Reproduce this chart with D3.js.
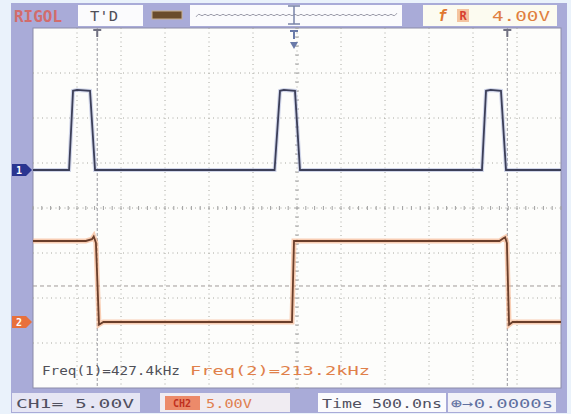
<!DOCTYPE html>
<html>
<head>
<meta charset="utf-8">
<script src="https://d3js.org/d3.v7.min.js"></script>
<style>
  body { margin: 0; background: #eaf2fb; }
  svg text { font-family: "DejaVu Sans Mono", monospace; }
</style>
</head>
<body>
<svg id="scope" width="571" height="414"></svg>
<script>
// time in ns, volts per channel
var ch1Time = [-3000, -2590, -2545, -2500, -2352, -2295, -255, -193, -150, -23, 34, 2102, 2148, 2200, 2318, 2375, 3000];
var ch1Volt = [0, 0, 8.8, 8.9, 8.8, 0, 0, 8.8, 8.9, 8.8, 0, 0, 8.8, 8.9, 8.8, 0, 0];

var ch2Time = [-3000, -2400, -2330, -2310, -2285, -2250, -2200, -57, -34, 2300, 2345, 2365, 2385, 2410, 2450, 3000];
var ch2Volt = [9.0, 9.0, 9.2, 9.5, 8.8, -0.3, 0, 0, 9.0, 9.0, 9.3, 9.4, 8.8, -0.3, 0, 0];

var cursorTimes = [-2270, 2390];
var trigLevel = 4.0;       // volts on CH2
var voltsPerDiv = 5;
var nsPerDiv = 500;

var freqLabels = ["Freq(1)=427.4kHz", "Freq(2)=213.2kHz"];

var svg = d3.select("#scope");

// screen area
var scrL = 33, scrR = 561, scrT = 28, scrB = 388;
var x = d3.scaleLinear().domain([-6 * nsPerDiv, 6 * nsPerDiv]).range([scrL, scrR]);
var yDiv = d3.scaleLinear().domain([-4, 4]).range([scrB, scrT]);
var y1 = function (v) { return yDiv(v / voltsPerDiv + 0.844); };
var y2 = function (v) { return yDiv(v / voltsPerDiv - 2.533); };

function label(px, py, size, fill, len, str) {
  return svg.append("text").attr("x", px).attr("y", py).attr("font-size", size).attr("fill", fill)
    .attr("textLength", len).attr("lengthAdjust", "spacingAndGlyphs").text(str);
}

// frame
svg.append("rect").attr("x", 11).attr("y", 3).attr("width", 556).attr("height", 410).attr("fill", "#a9abd8");
svg.append("rect").attr("x", scrL).attr("y", scrT).attr("width", scrR - scrL).attr("height", scrB - scrT)
  .attr("fill", "#fdfdfb").attr("stroke", "#8c8ca8").attr("stroke-width", 1);

// grid
var grid = svg.append("g");
d3.range(1, 12).forEach(function (i) {
  var gx = x(-3000 + i * nsPerDiv);
  grid.append("line").attr("x1", gx).attr("x2", gx).attr("y1", scrT).attr("y2", scrB)
    .attr("stroke", "#a8a8a0").attr("stroke-dasharray", "1,3.5");
});
d3.range(1, 8).forEach(function (i) {
  var gy = yDiv(-4 + i);
  grid.append("line").attr("x1", scrL).attr("x2", scrR).attr("y1", gy).attr("y2", gy)
    .attr("stroke", "#a8a8a0").attr("stroke-dasharray", "1,3.5");
});
// minor ticks on centre axes
d3.range(-30, 31).forEach(function (k) {
  var gx = x(k * nsPerDiv / 5);
  grid.append("line").attr("x1", gx).attr("x2", gx).attr("y1", yDiv(0) - 2).attr("y2", yDiv(0) + 2).attr("stroke", "#a0a0a0");
});
d3.range(-20, 21).forEach(function (k) {
  var gy = yDiv(k / 5);
  grid.append("line").attr("x1", x(0) - 2).attr("x2", x(0) + 2).attr("y1", gy).attr("y2", gy).attr("stroke", "#a0a0a0");
});

// cursors and trigger level
cursorTimes.forEach(function (t) {
  svg.append("line").attr("x1", x(t)).attr("x2", x(t)).attr("y1", scrT).attr("y2", scrB)
    .attr("stroke", "#9a9aa0").attr("stroke-dasharray", "3,2");
  svg.append("path").attr("d", "M" + (x(t) - 4) + "," + (scrT + 2) + "h8M" + x(t) + "," + (scrT + 2) + "v7")
    .attr("stroke", "#707080").attr("stroke-width", 2);
});
svg.append("line").attr("x1", scrL).attr("x2", scrR).attr("y1", y2(trigLevel)).attr("y2", y2(trigLevel))
  .attr("stroke", "#a09a98").attr("stroke-dasharray", "4,3");

// trigger position marker
var tx = x(0) - 3;
svg.append("path").attr("d", "M" + (tx - 4) + "," + (scrT + 3) + "h8M" + tx + "," + (scrT + 3) + "v8")
  .attr("stroke", "#6a7aa8").attr("stroke-width", 2);
svg.append("path").attr("d", "M" + (tx - 4) + "," + (scrT + 14) + "h8l-4,7z").attr("fill", "#6a7aa8");

// traces
var line1 = d3.line().x(function (d, i) { return x(ch1Time[i]); }).y(function (d) { return y1(d); });
var line2 = d3.line().x(function (d, i) { return x(ch2Time[i]); }).y(function (d) { return y2(d); });

svg.append("path").attr("d", line2(ch2Volt)).attr("fill", "none").attr("stroke", "#f5a77a").attr("stroke-width", 5).attr("opacity", 0.55);
svg.append("path").attr("d", line2(ch2Volt)).attr("fill", "none").attr("stroke", "#6a3e2a").attr("stroke-width", 1.8);
svg.append("path").attr("d", line1(ch1Volt)).attr("fill", "none").attr("stroke", "#b4bce0").attr("stroke-width", 4).attr("opacity", 0.6);
svg.append("path").attr("d", line1(ch1Volt)).attr("fill", "none").attr("stroke", "#3c3f58").attr("stroke-width", 1.8);

// channel markers
function marker(yy, fill, txt) {
  svg.append("path").attr("d", "M12," + (yy - 6) + "h14l6,6l-6,6h-14z").attr("fill", fill);
  svg.append("text").attr("x", 19).attr("y", yy + 4).attr("font-size", 10).attr("font-weight", "bold")
    .attr("fill", "#ffffff").attr("text-anchor", "middle").text(txt);
}
marker(y1(0), "#2a3590", "1");
marker(y2(0), "#e8703c", "2");

// frequency readouts
label(42, 375, 13, "#505058", 138, freqLabels[0]);
label(190, 375, 13, "#e0804a", 180, freqLabels[1]);

// top bar
label(14, 22, 15, "#d26c6c", 48, "RIGOL").attr("font-weight", "bold");
svg.append("rect").attr("x", 78).attr("y", 5).attr("width", 65).attr("height", 21).attr("fill", "#fbfbfd");
label(90, 21, 14, "#505058", 28, "T'D");
svg.append("rect").attr("x", 152).attr("y", 11).attr("width", 30).attr("height", 8).attr("fill", "#6a4c2c").attr("stroke", "#c8b090");
svg.append("rect").attr("x", 190).attr("y", 5).attr("width", 212).attr("height", 21).attr("fill", "#fbfbfd");
var wave = d3.range(196, 398, 3).map(function (px, i) { return [px, i % 2 ? 13 : 17]; });
svg.append("path").attr("d", d3.line().curve(d3.curveBasis)(wave)).attr("fill", "none").attr("stroke", "#9a9aa8");
svg.append("path").attr("d", "M288,6h12M294,6v18M288,24h12").attr("stroke", "#7a84a8").attr("stroke-width", 1.5);
svg.append("rect").attr("x", 423).attr("y", 5).attr("width", 134).attr("height", 21).attr("fill", "#fcfbf0");
svg.append("text").attr("x", 438).attr("y", 21).attr("font-size", 15).attr("font-style", "italic").attr("font-weight", "bold")
  .attr("fill", "#e07830").text("f");
svg.append("rect").attr("x", 457).attr("y", 9).attr("width", 12).attr("height", 13).attr("fill", "#f4c4a0");
svg.append("text").attr("x", 463).attr("y", 20).attr("font-size", 12).attr("font-weight", "bold")
  .attr("fill", "#d84030").attr("text-anchor", "middle").text("R");
label(492, 21, 14, "#e08040", 58, "4.00V");

// bottom bar
svg.append("rect").attr("x", 12).attr("y", 393).attr("width", 128).attr("height", 19).attr("fill", "#e6e6f4");
label(16, 408, 13, "#505060", 118, "CH1= 5.00V");
svg.append("rect").attr("x", 160).attr("y", 393).attr("width", 130).attr("height", 19).attr("fill", "#f0ecf2");
svg.append("rect").attr("x", 165).attr("y", 396).attr("width", 35).attr("height", 14).attr("fill", "#ec8a6a");
svg.append("text").attr("x", 182).attr("y", 407).attr("font-size", 10).attr("font-weight", "bold")
  .attr("fill", "#c03020").attr("text-anchor", "middle").text("CH2");
label(206, 408, 13, "#e08050", 46, "5.00V");
svg.append("rect").attr("x", 318).attr("y", 393).attr("width", 128).attr("height", 19).attr("fill", "#fbfbfd");
label(322, 408, 13, "#505060", 120, "Time 500.0ns");
svg.append("rect").attr("x", 448).attr("y", 393).attr("width", 108).attr("height", 19).attr("fill", "#f2f2f8");
label(451, 408, 13, "#6070a0", 102, "⊕→0.0000s");
</script>
</body>
</html>
